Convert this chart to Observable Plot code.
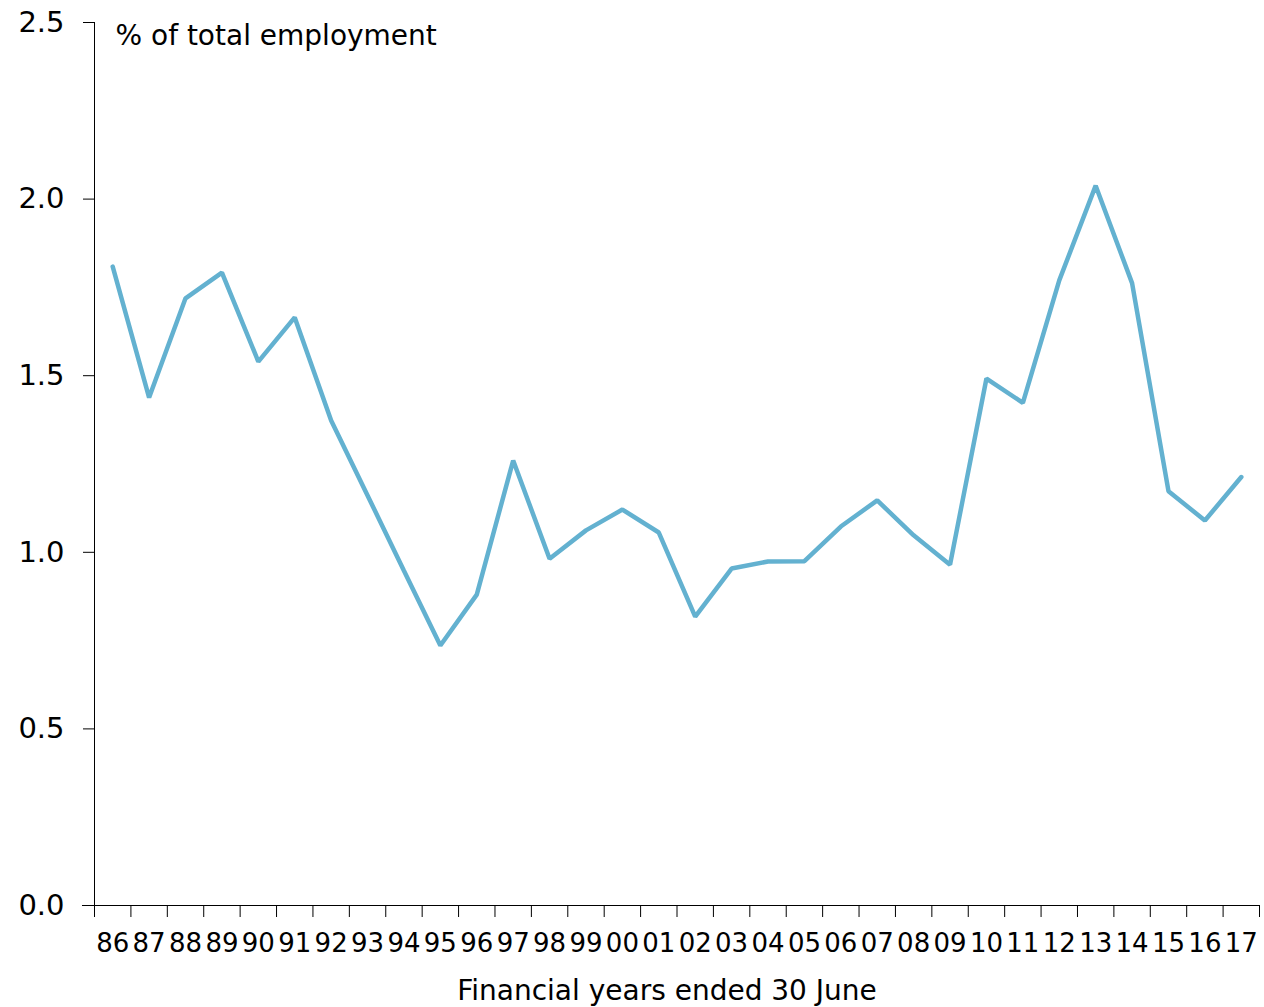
<!DOCTYPE html>
<html>
<head>
<meta charset="utf-8">
<script src="https://cdn.jsdelivr.net/npm/d3@7"></script>
<script src="https://cdn.jsdelivr.net/npm/@observablehq/plot@0.6"></script>
<style>
  html, body { margin: 0; padding: 0; background: #fff; }
  #chart svg { display: block; }
</style>
</head>
<body>
<div id="chart"></div>
<script>
const years = ["86","87","88","89","90","91","92","93","94","95","96","97","98","99","00","01","02","03","04","05","06","07","08","09","10","11","12","13","14","15","16","17"];
const values = [1.809,1.438,1.719,1.792,1.540,1.665,1.373,1.161,0.948,0.736,0.880,1.260,0.982,1.062,1.121,1.056,0.818,0.954,0.974,0.975,1.073,1.147,1.048,0.965,1.492,1.423,1.770,2.038,1.762,1.173,1.090,1.213];
const yTicks = [0, 0.5, 1.0, 1.5, 2.0, 2.5];
const title = "% of total employment";
const xLabel = "Financial years ended 30 June";

const data = years.map((y, i) => ({i: i + 0.5, year: y, value: values[i]}));
const font = "DejaVu Sans";

const chart = Plot.plot({
  width: 1264,
  height: 1007,
  marginLeft: 94,
  marginRight: 5,
  marginTop: 22,
  marginBottom: 102,
  style: {fontFamily: font, fontSize: "26px", color: "#000", background: "#fff"},
  x: {type: "linear", domain: [0, years.length]},
  y: {domain: [0, 2.5]},
  marks: [
    Plot.axisY({ticks: yTicks, tickFormat: d3.format(".1f"), tickSize: 11, tickPadding: 19, fontSize: 29, label: null, stroke: "#000"}),
    Plot.axisX({ticks: d3.range(years.length + 1), tickFormat: () => "", tickSize: 12, label: null, stroke: "#000"}),
    Plot.axisX({ticks: data.map(d => d.i), tickFormat: (d) => years[Math.floor(d)], tickSize: 0, tickPadding: 28, fontSize: 26, label: null}),
    Plot.ruleX([0], {stroke: "#000", strokeWidth: 1}),
    Plot.ruleY([0], {stroke: "#000", strokeWidth: 1, x1: -0.33, x2: years.length}),
    Plot.line(data, {x: "i", y: "value", stroke: "#63b1d0", strokeWidth: 4.5, strokeLinejoin: "miter"}),
    Plot.text([title], {frameAnchor: "top-left", dx: 21, dy: 3, fontSize: 28, textAnchor: "start", fill: "#000"}),
    Plot.text([xLabel], {frameAnchor: "bottom", dy: 94, dx: -10, fontSize: 28, fill: "#000"})
  ]
});
document.getElementById("chart").appendChild(chart);
</script>
</body>
</html>
